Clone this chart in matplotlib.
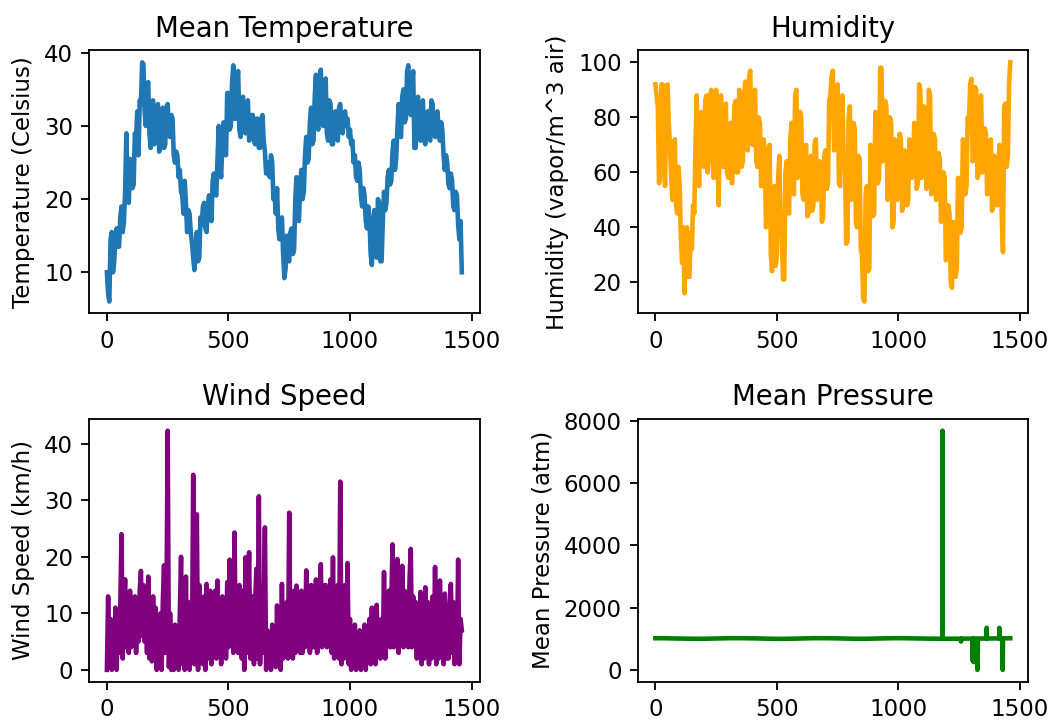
import matplotlib
matplotlib.use("Agg")
import numpy as np
import matplotlib.pyplot as plt

# values, one every 5 days (day 0 .. 1460)
days = np.arange(0, 1461, 5)

mean_temp = [10.0, 7.0, 6.0, 14.5, 15.5, 10.0, 11.5, 15.0, 16.0, 13.5,
             13.5, 17.5, 19.0, 15.5, 17.0, 21.0, 29.0, 20.0, 19.5, 25.5,
             24.5, 21.5, 22.0, 29.0, 28.5, 32.0, 26.0, 33.5, 33.0, 38.7,
             38.5, 32.0, 30.0, 35.5, 36.0, 29.0, 27.0, 33.0, 33.5, 27.5,
             28.0, 32.5, 33.0, 26.5, 27.0, 32.0, 32.5, 27.0, 27.5, 32.5,
             33.0, 29.0, 28.5, 31.5, 31.0, 26.0, 25.0, 26.5, 26.0, 23.0,
             24.0, 21.0, 20.5, 18.0, 22.5, 19.5, 15.5, 18.5, 18.0, 15.5,
             14.0, 12.0, 10.3, 13.0, 15.5, 11.5, 12.0, 17.5, 16.5, 19.0,
             19.5, 16.0, 15.5, 19.0, 20.5, 18.0, 17.0, 22.5, 23.5, 21.0,
             20.5, 25.5, 30.0, 24.5, 23.0, 28.0, 30.5, 26.5, 26.0, 34.5,
             34.5, 29.5, 30.0, 36.0, 38.3, 31.0, 31.0, 36.5, 37.5, 29.5,
             28.5, 33.5, 34.0, 29.5, 29.0, 33.0, 33.5, 28.0, 28.5, 31.5,
             31.5, 28.0, 27.5, 31.0, 31.0, 27.0, 27.0, 31.0, 31.5, 28.0,
             26.5, 23.5, 25.0, 24.0, 23.0, 26.0, 25.0, 20.0, 20.5, 18.0,
             21.5, 16.0, 14.5, 17.0, 17.5, 12.5, 9.2, 10.5, 15.0, 12.0,
             11.5, 15.5, 16.0, 12.5, 13.0, 20.0, 23.0, 17.5, 17.0, 22.0,
             24.0, 20.0, 21.0, 26.0, 28.5, 25.0, 25.5, 30.5, 32.5, 27.5,
             28.0, 34.0, 37.0, 30.0, 29.5, 36.0, 37.7, 31.0, 30.0, 35.5,
             36.5, 29.0, 28.0, 33.5, 33.0, 27.5, 27.5, 31.5, 32.0, 28.5,
             28.0, 32.5, 33.0, 29.5, 29.0, 31.5, 32.0, 30.0, 31.0, 28.5,
             29.5, 27.5, 28.0, 25.0, 26.0, 23.0, 22.5, 25.0, 24.0, 20.5,
             19.0, 21.5, 20.5, 17.0, 16.0, 19.0, 17.5, 12.5, 11.0, 15.0,
             18.5, 13.0, 12.0, 20.0, 19.5, 11.5, 11.5, 17.0, 21.0, 18.5,
             19.5, 23.0, 24.0, 22.0, 22.5, 26.5, 28.0, 24.0, 25.5, 29.5,
             33.0, 29.0, 28.5, 34.0, 35.0, 30.5, 31.0, 37.5, 38.3, 32.0,
             31.5, 36.0, 37.5, 27.0, 27.0, 33.5, 34.0, 29.0, 28.0, 32.5,
             33.5, 28.0, 27.5, 31.5, 32.0, 28.5, 28.0, 33.5, 33.0, 29.0,
             28.5, 31.5, 32.0, 29.0, 28.0, 30.5, 29.5, 26.0, 24.0, 26.0,
             25.0, 22.0, 21.5, 23.5, 22.5, 19.0, 18.5, 21.0, 20.5, 16.5,
             14.5, 17.0, 10.0]

humidity = [92, 88, 84, 56, 60, 92, 92, 62, 55, 91,
            92, 78, 70, 58, 50, 66, 72, 48, 45, 62,
            55, 36, 27, 40, 16, 34, 40, 22, 22, 38,
            32, 48, 45, 70, 88, 62, 55, 78, 82, 66,
            62, 86, 88, 60, 65, 88, 90, 70, 58, 82,
            90, 70, 48, 76, 88, 64, 62, 80, 85, 60,
            58, 74, 78, 56, 65, 84, 86, 60, 60, 90,
            80, 62, 64, 88, 93, 72, 68, 94, 97, 74,
            70, 88, 90, 64, 62, 80, 78, 55, 55, 72,
            68, 40, 45, 66, 70, 30, 24, 50, 55, 26,
            30, 58, 66, 40, 38, 21, 21, 60, 64, 46,
            45, 72, 78, 54, 52, 88, 90, 58, 60, 82,
            80, 52, 50, 68, 70, 44, 45, 64, 66, 46,
            48, 70, 72, 50, 52, 64, 62, 42, 44, 66,
            68, 54, 56, 86, 88, 95, 97, 68, 70, 90,
            92, 56, 55, 86, 88, 62, 64, 34, 35, 80,
            84, 50, 52, 78, 76, 42, 40, 66, 65, 32,
            30, 14, 13, 52, 55, 24, 25, 70, 68, 44,
            45, 82, 80, 56, 58, 98, 98, 64, 66, 86,
            84, 50, 52, 80, 78, 40, 42, 72, 70, 50,
            52, 74, 72, 46, 48, 68, 66, 48, 50, 72,
            70, 58, 60, 78, 75, 54, 56, 92, 90, 58,
            60, 84, 82, 54, 56, 90, 88, 52, 55, 74,
            72, 50, 52, 67, 65, 42, 45, 60, 58, 28,
            30, 48, 45, 20, 18, 42, 40, 22, 25, 58,
            55, 38, 40, 72, 70, 52, 55, 80, 78, 92,
            94, 64, 66, 91, 90, 58, 60, 86, 88, 60,
            62, 76, 74, 52, 55, 70, 72, 46, 48, 66,
            64, 48, 50, 70, 68, 44, 31, 84, 85, 62,
            66, 92, 100]

wind_speed = [0, 13, 2, 9, 0, 8, 1, 11, 0, 10,
              3, 11, 24, 2, 12, 16, 4, 13, 3, 14,
              4, 11, 5, 13, 3, 10, 5, 14, 17.5, 6,
              15, 5, 13, 3, 16.5, 2, 12, 1.5, 13, 4,
              11, 0, 9, 2, 10, 0, 12, 18.5, 3, 11,
              42.3, 0.5, 10, 0, 7, 0, 8, 1, 6, 0,
              10, 20, 1, 9, 0, 16.5, 1, 12, 0, 11,
              3, 34.5, 1, 17, 27.5, 0, 15, 2, 11, 1,
              13, 0, 15.2, 2, 9, 14, 1, 12, 3, 14,
              2, 15.8, 3, 11, 1, 13, 4, 12, 2, 15.5,
              4, 19.5, 5, 14, 3, 24.3, 5, 13, 3, 15,
              12, 2, 14, 0, 19.9, 3, 13, 20.8, 2, 12,
              13, 1, 12, 17.9, 2, 30.7, 1, 12, 3, 10,
              25.2, 0, 7, 1, 6, 0, 8, 2, 6, 0.5,
              11.4, 1, 9, 0, 15.2, 2, 10, 3, 12, 2,
              27.8, 3, 13, 2, 14, 3, 14.9, 4, 12, 3,
              14, 3, 12, 4, 17.6, 5, 13, 3, 15, 4,
              12, 4, 16, 3, 14, 6, 18.7, 4, 15, 5,
              15, 4, 13, 6, 16, 3, 19.9, 2, 14, 4,
              15, 2, 33.3, 1, 12, 2, 15, 3, 18.9, 1,
              9, 0, 7, 1, 8, 0, 6, 1, 7, 0,
              6, 1, 8, 0, 7, 2, 9, 1, 11, 2,
              9, 1, 11.5, 3, 8, 2, 9, 3, 17.3, 2,
              12, 5, 14, 4, 12, 22.2, 4, 13, 5, 19.6,
              3, 15, 5, 18.4, 4, 14, 5, 12, 4, 16,
              21.4, 4, 13, 5, 12, 2, 11, 3, 13.8, 1,
              12, 2, 14.6, 3, 12, 1, 11, 2, 13, 3,
              18.2, 1, 12, 2, 15.8, 3, 12, 1, 13.5, 2,
              11, 2, 12, 15.2, 3, 12, 1, 10, 2, 19.5,
              1, 9, 7]

# pressure is flat apart from a few outliers, so it keeps its own day list
pressure_days = [0, 30, 60, 90, 120, 150, 180, 210, 240, 270, 300, 330, 360,
                 390, 420, 450, 480, 510, 540, 570, 600, 630, 660, 690, 720,
                 750, 780, 810, 840, 870, 900, 930, 960, 990, 1020, 1050,
                 1080, 1110, 1140, 1170, 1181, 1182, 1183, 1200, 1230, 1257,
                 1258, 1259, 1280, 1300, 1305, 1306, 1308, 1310, 1312, 1320,
                 1326, 1328, 1340, 1363, 1364, 1365, 1390, 1415, 1416, 1417,
                 1429, 1430, 1431, 1461]
mean_pressure = [1016, 1017, 1012, 1008, 1004, 1000, 998, 1001, 1006, 1011,
                 1016, 1018, 1017, 1014, 1010, 1004, 999, 996, 998, 1003,
                 1008, 1014, 1018, 1017, 1015, 1012, 1006, 1001, 998, 999,
                 1004, 1010, 1014, 1017, 1017, 1014, 1009, 1005, 1002, 1000,
                 1000, 7679, 1001, 1000, 1001, 1002, 910, 1003, 1003, 1004,
                 1004, 300, 1005, 250, 1004, 1005, 0, 1006, 1007, 1007,
                 1350, 1008, 1009, 1010, 1350, 1011, 1012, 0, 1012, 1016]

fig, axs = plt.subplots(2, 2, figsize=(1049 / 165, 720 / 165), dpi=165)

axs[0, 0].plot(days, mean_temp, linewidth=2)
axs[0, 0].set_title('Mean Temperature')
axs[0, 0].set_ylabel('Temperature (Celsius)')

axs[0, 1].plot(days, humidity, color='orange', linewidth=2)
axs[0, 1].set_title('Humidity')
axs[0, 1].set_ylabel('Humidity (vapor/m^3 air)')

axs[1, 0].plot(days, wind_speed, color='purple', linewidth=2)
axs[1, 0].set_title('Wind Speed')
axs[1, 0].set_ylabel('Wind Speed (km/h)')

axs[1, 1].plot(pressure_days, mean_pressure, color='green', linewidth=2)
axs[1, 1].set_title('Mean Pressure')
axs[1, 1].set_ylabel('Mean Pressure (atm)')

plt.subplots_adjust(left=0.085, right=0.98, top=0.93, bottom=0.053,
                    wspace=0.405, hspace=0.40)
plt.savefig('out.png')
